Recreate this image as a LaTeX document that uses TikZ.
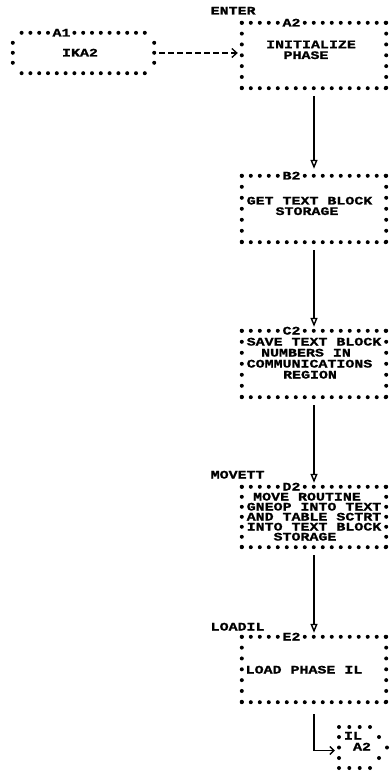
\documentclass[tikz,border=0pt]{standalone}
\usepackage{fontspec}
\setmonofont[FakeStretch=1.3, BoldFeatures={FakeBold=1.2}]{Liberation Mono}
\usetikzlibrary{arrows.meta}
\newcommand\astbox[3]{%
  \draw[dotline, dash pattern=on 0pt off #2pt] (#1.north west) -- (#1.north east);
  \draw[dotline, dash pattern=on 0pt off #2pt] (#1.south west) -- (#1.south east);
  \draw[dotline, dash pattern=on 0pt off #3pt] (#1.north west) -- (#1.south west);
  \draw[dotline, dash pattern=on 0pt off #3pt] (#1.north east) -- (#1.south east);}
\begin{document}
\begin{tikzpicture}[x=1pt,y=-1pt,
  dotline/.style={line width=4pt, line cap=round},
  box/.style={rectangle, inner sep=0pt, minimum width=144pt},
  txt/.style={font=\ttfamily\bfseries\fontsize{11.5pt}{10pt}\selectfont, inner sep=0pt, text height=7pt, text depth=0pt},
  lbl/.style={txt, fill=white},
  entry/.style={txt, anchor=west},
  flow/.style={line width=1.4pt, -{Triangle[open, length=9pt, width=7pt]}, shorten <=8pt, shorten >=4pt},
  offflow/.style={line width=1.3pt, dash pattern=on 6pt off 3pt, -{Straight Barb[length=5pt, width=9pt]}, shorten <=5pt, shorten >=4pt},
]
\useasboundingbox (0,0) rectangle (390,775);

% ---------- A1 (off-page connector) ----------
\node[box, minimum width=141pt, minimum height=40pt] (A1) at (83.5,53) {};
\draw[dotline, dash pattern=on 0pt off 8.8pt] ([xshift=8.8pt]A1.north west) -- ([xshift=-8.8pt]A1.north east);
\draw[dotline, dash pattern=on 0pt off 8.8pt] ([xshift=8.8pt]A1.south west) -- ([xshift=-8.8pt]A1.south east);
\draw[dotline, dash pattern=on 0pt off 9.99pt] ([yshift=-10pt]A1.north west) -- ([yshift=10pt]A1.south west);
\draw[dotline, dash pattern=on 0pt off 9.99pt] ([yshift=-10pt]A1.north east) -- ([yshift=10pt]A1.south east);
\node[lbl] (A1l) at (61.5,33) {A1};
\node[txt] (A1t) at (80,53) {IKA2};

% ---------- A2 ----------
\node[box, minimum height=65pt] (A2) at (314,55.5) {};
\astbox{A2}{8.995}{10.83}
\node[lbl] (A2l) at (291.5,23) {A2};
\node[entry] (enter) at (210.5,11) {ENTER};
\node[txt] (A2t1) at (311,44.7) {INITIALIZE};
\node[txt] (A2t2) at (306,55.5) {PHASE};

% ---------- B2 ----------
\node[box, minimum height=66pt] (B2) at (314,209) {};
\astbox{B2}{8.995}{10.995}
\node[lbl] (B2l) at (291.5,176) {B2};
\node[txt] (B2t1) at (309.5,201) {GET TEXT BLOCK};
\node[txt] (B2t2) at (307,211.5) {STORAGE};

% ---------- C2 ----------
\node[box, minimum height=66pt] (C2) at (314,364) {};
\astbox{C2}{8.995}{10.995}
\node[lbl] (C2l) at (291.5,331) {C2};
\node[txt] (C2t1) at (314,342) {SAVE TEXT BLOCK};
\node[txt] (C2t2) at (306,353) {NUMBERS IN};
\node[txt] (C2t3) at (309.5,364) {COMMUNICATIONS};
\node[txt] (C2t4) at (310,375) {REGION};

% ---------- D2 ----------
\node[box, minimum height=60pt] (D2) at (314,517) {};
\astbox{D2}{8.995}{9.995}
\node[lbl] (D2l) at (291.5,487) {D2};
\node[entry] (movett) at (210.5,475) {MOVETT};
\node[txt] (D2t1) at (307,497) {MOVE ROUTINE};
\node[txt] (D2t2) at (314,507) {GNEOP INTO TEXT};
\node[txt] (D2t3) at (314,517) {AND TABLE SCTRT};
\node[txt] (D2t4) at (314,527) {INTO TEXT BLOCK};
\node[txt] (D2t5) at (305,537) {STORAGE};

% ---------- E2 ----------
\node[box, minimum height=65pt] (E2) at (314,669.5) {};
\astbox{E2}{8.995}{10.83}
\node[lbl] (E2l) at (291.5,637) {E2};
\node[entry] (loadil) at (210.5,627) {LOADIL};
\node[txt] (E2t1) at (304,670) {LOAD PHASE IL};

% ---------- IL / A2 connector ----------
\node[rectangle, inner sep=0pt, minimum width=48pt, minimum height=41pt] (IL) at (363,747.5) {};
\foreach \p in {(339,727),(349.3,727),(359.7,727),(370,727),
                (339,737),(379,737),(339,747.5),(387,747.5),(339,758),(379,758),
                (339,768),(349.3,768),(359.7,768),(370,768)}
  \fill \p circle (2pt);
\node[txt] (ILt1) at (353,736) {IL};
\node[txt] (ILt2) at (362,747) {A2};

% ---------- connectors ----------
\draw[offflow] (A1t -| A1.east) -- (A1t -| A2.west);
\draw[flow, shorten >=7pt] (A2.south) -- (B2.north);
\draw[flow] (B2.south) -- (C2.north);
\draw[flow] (C2.south) -- (D2.north);
\draw[flow] (D2.south) -- (E2.north);
\draw[line width=1.4pt, -{Straight Barb[length=4pt, width=8pt]}, shorten <=12pt, shorten >=4pt]
  (E2.south) |- ([yshift=-3pt]IL.west);
\end{tikzpicture}
\end{document}
